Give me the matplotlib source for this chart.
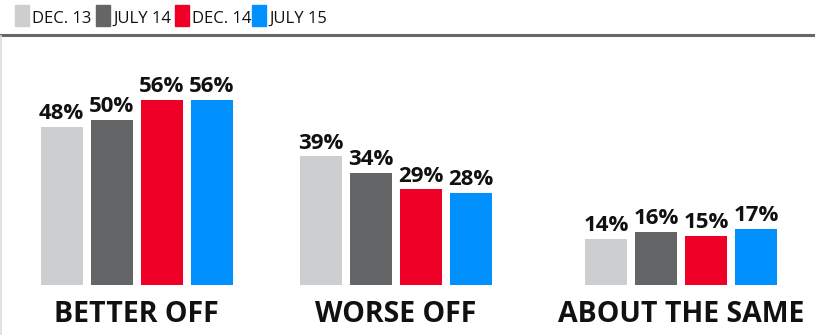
import matplotlib
matplotlib.use("Agg")
import matplotlib.pyplot as plt
from matplotlib.patches import Rectangle
from matplotlib.lines import Line2D

W, H = 815, 335

categories = ["BETTER OFF", "WORSE OFF", "ABOUT THE SAME"]
series = ["DEC. 13", "JULY 14", "DEC. 14", "JULY 15"]
dec13 = [48, 39, 14]
july14 = [50, 34, 16]
dec14 = [56, 29, 15]
july15 = [56, 28, 17]
colors = ["#cdced0", "#646567", "#ee0027", "#0091ff"]

values = [dec13, july14, dec14, july15]

# layout in pixels
group_x = [136.5, 396, 681]
bar_w = 42
step = 50
base_px, top_px = 285, 36
px_per_pct = 3.3

fig = plt.figure(figsize=(W / 100, H / 100), dpi=100)
ax = fig.add_axes([0, (H - base_px) / H, 1, (base_px - top_px) / H])
ax.set_xlim(0, W)
ax.set_ylim(0, (base_px - top_px) / px_per_pct)
ax.axis("off")

for i, (vals, col) in enumerate(zip(values, colors)):
    xs = [g + (i - 1.5) * step for g in group_x]
    ax.bar(xs, vals, width=bar_w, color=col)
    for x, v in zip(xs, vals):
        ax.annotate(f"{v}%", (x, v), xytext=(0, 2), textcoords="offset points",
                    ha="center", va="bottom", fontsize=16, fontweight="bold",
                    family="Open Sans", color="#111111")

for g, name in zip(group_x, categories):
    fig.text(g / W, 1 - 322 / H, name, ha="center", va="baseline",
             fontsize=20.5, fontweight="bold", family="Open Sans", color="#111111")

# header rule and left border
fig.add_artist(Line2D([0, 1], [1 - 34.5 / H] * 2, color="#666666", lw=2.2,
                      transform=fig.transFigure))
fig.add_artist(Line2D([0.5 / W] * 2, [0, 1 - 36 / H], color="#dddddd", lw=1.2,
                      transform=fig.transFigure))

# legend
sw_x = [15, 96, 175, 252]
for x, name, col in zip(sw_x, series, colors):
    fig.add_artist(Rectangle((x / W, 1 - 26 / H), 14 / W, 21 / H, color=col,
                             transform=fig.transFigure))
    fig.text((x + 17) / W, 1 - 23 / H, name, ha="left", va="baseline",
             fontsize=12, family="Open Sans", color="#111111")

fig.savefig("out.png", dpi=100)
